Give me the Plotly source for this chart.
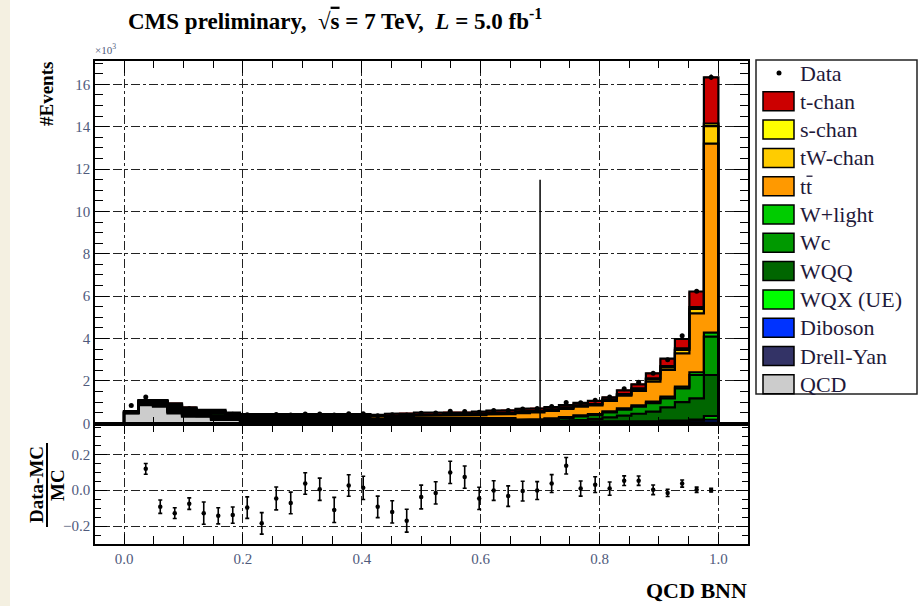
import numpy as np
import plotly.graph_objects as go

# ---------------- data (values in units of 10^3 events) ----------------
n_bins = 41
bin_edges = np.linspace(0.0, 1.0, n_bins + 1)
bin_centers = 0.5 * (bin_edges[:-1] + bin_edges[1:])

qcd = [0.47, 0.86, 0.79, 0.47, 0.31, 0.31, 0.16, 0.16, 0.08, 0.08, 0.08, 0.01, 0.01, 0.01,
       0.01, 0.01, 0.01, 0.01, 0.01, 0.01, 0.01, 0.01, 0.01, 0.01, 0.01, 0.01, 0.01, 0.01,
       0.01, 0.01, 0.0, 0.0, 0.0, 0.0, 0.0, 0.0, 0.0, 0.0, 0.0, 0.0, 0.0]
drell_yan = [0.01, 0.02, 0.03, 0.04, 0.04, 0.03, 0.04, 0.03, 0.03, 0.03, 0.03, 0.03, 0.03, 0.03,
             0.03, 0.03, 0.03, 0.03, 0.03, 0.03, 0.03, 0.03, 0.03, 0.03, 0.03, 0.03, 0.03, 0.03,
             0.03, 0.03, 0.03, 0.03, 0.03, 0.03, 0.03, 0.03, 0.03, 0.06, 0.04, 0.04, 0.05]
diboson = [0.01, 0.02, 0.02, 0.03, 0.03, 0.02, 0.03, 0.02, 0.02, 0.02, 0.02, 0.02, 0.02, 0.02,
           0.02, 0.02, 0.02, 0.02, 0.02, 0.02, 0.02, 0.02, 0.02, 0.02, 0.02, 0.02, 0.02, 0.02,
           0.02, 0.02, 0.02, 0.02, 0.02, 0.02, 0.03, 0.03, 0.04, 0.05, 0.06, 0.08, 0.12]
wqx_ue = [0.01, 0.02, 0.03, 0.04, 0.04, 0.03, 0.04, 0.03, 0.03, 0.03, 0.03, 0.03, 0.03, 0.03,
          0.03, 0.03, 0.03, 0.03, 0.03, 0.03, 0.03, 0.03, 0.03, 0.03, 0.03, 0.03, 0.03, 0.01,
          0.01, 0.01, 0.01, 0.01, 0.01, 0.01, 0.01, 0.02, 0.02, 0.02, 0.03, 0.05, 0.17]
wqq = [0.01, 0.02, 0.03, 0.05, 0.04, 0.03, 0.05, 0.03, 0.03, 0.03, 0.03, 0.04, 0.04, 0.03,
       0.04, 0.03, 0.04, 0.03, 0.04, 0.04, 0.03, 0.03, 0.03, 0.04, 0.03, 0.03, 0.03, 0.02,
       0.03, 0.04, 0.07, 0.10, 0.15, 0.22, 0.29, 0.37, 0.46, 0.62, 0.87, 1.01, 1.94]
wc = [0.01, 0.03, 0.04, 0.06, 0.06, 0.04, 0.06, 0.05, 0.05, 0.05, 0.05, 0.05, 0.05, 0.04,
      0.05, 0.04, 0.05, 0.04, 0.05, 0.05, 0.05, 0.05, 0.05, 0.05, 0.05, 0.05, 0.05, 0.04,
      0.06, 0.08, 0.12, 0.16, 0.18, 0.23, 0.28, 0.33, 0.40, 0.43, 0.65, 1.10, 1.81]
w_light = [0.01, 0.04, 0.05, 0.07, 0.07, 0.05, 0.07, 0.05, 0.06, 0.06, 0.05, 0.06, 0.06, 0.05,
           0.06, 0.05, 0.06, 0.04, 0.06, 0.06, 0.06, 0.06, 0.06, 0.07, 0.06, 0.07, 0.07, 0.05,
           0.04, 0.04, 0.04, 0.05, 0.05, 0.05, 0.06, 0.07, 0.07, 0.08, 0.08, 0.13, 0.19]
ttbar = [0.01, 0.03, 0.04, 0.06, 0.05, 0.04, 0.06, 0.05, 0.05, 0.05, 0.05, 0.07, 0.07, 0.11,
         0.08, 0.11, 0.08, 0.10, 0.08, 0.09, 0.13, 0.13, 0.14, 0.11, 0.16, 0.18, 0.19, 0.30,
         0.32, 0.36, 0.39, 0.42, 0.41, 0.50, 0.60, 0.68, 0.95, 1.26, 1.57, 2.78, 8.92]
tw_chan = [0.01, 0.02, 0.02, 0.04, 0.04, 0.03, 0.04, 0.03, 0.03, 0.03, 0.03, 0.04, 0.04, 0.04,
           0.04, 0.04, 0.04, 0.03, 0.04, 0.04, 0.04, 0.04, 0.04, 0.05, 0.05, 0.05, 0.05, 0.06,
           0.05, 0.05, 0.05, 0.04, 0.04, 0.05, 0.05, 0.08, 0.10, 0.12, 0.16, 0.21, 0.83]
s_chan = [0.01, 0.01, 0.01, 0.02, 0.02, 0.01, 0.02, 0.01, 0.02, 0.02, 0.02, 0.02, 0.02, 0.02,
          0.02, 0.02, 0.02, 0.02, 0.02, 0.02, 0.02, 0.02, 0.03, 0.03, 0.03, 0.03, 0.03, 0.03,
          0.02, 0.02, 0.02, 0.02, 0.02, 0.02, 0.03, 0.04, 0.05, 0.06, 0.08, 0.08, 0.12]
t_chan = [0.01, 0.03, 0.04, 0.06, 0.05, 0.04, 0.06, 0.04, 0.04, 0.04, 0.04, 0.05, 0.05, 0.06,
          0.06, 0.06, 0.06, 0.05, 0.07, 0.08, 0.08, 0.08, 0.08, 0.08, 0.08, 0.10, 0.11, 0.11,
          0.11, 0.10, 0.11, 0.11, 0.15, 0.10, 0.17, 0.19, 0.24, 0.35, 0.44, 0.74, 2.18]

data_counts = [0.84, 1.24, 1.00, 0.82, 0.69, 0.55, 0.54, 0.43, 0.40, 0.36, 0.41, 0.39, 0.44, 0.44,
               0.39, 0.45, 0.45, 0.36, 0.40, 0.39, 0.48, 0.49, 0.57, 0.56, 0.52, 0.60, 0.60, 0.68,
               0.70, 0.79, 0.98, 0.97, 1.09, 1.24, 1.63, 1.94, 2.36, 3.00, 4.13, 6.23, 16.33]
data_errors = [0.029, 0.035, 0.032, 0.029, 0.026, 0.023, 0.023, 0.021, 0.020, 0.019, 0.020,
               0.020, 0.021, 0.021, 0.020, 0.021, 0.021, 0.019, 0.020, 0.020, 0.022, 0.022,
               0.024, 0.024, 0.023, 0.024, 0.024, 0.026, 0.026, 0.028, 0.031, 0.031, 0.033,
               0.035, 0.040, 0.044, 0.049, 0.055, 0.064, 0.079, 0.128]

# (Data-MC)/MC for bins 1..40
ratio_values = [0.119, -0.092, -0.128, -0.075, -0.128, -0.143, -0.139, -0.097, -0.185, -0.046,
                -0.071, 0.037, 0.005, -0.110, 0.026, 0.013, -0.093, -0.121, -0.170, -0.038,
                -0.015, 0.099, 0.073, -0.046, -0.002, -0.033, -0.005, -0.002, 0.037, 0.136,
                0.009, 0.031, 0.009, 0.053, 0.053, 0.002, -0.015, 0.037, 0.002, 0.000]
ratio_errors = [0.030, 0.037, 0.030, 0.032, 0.062, 0.045, 0.045, 0.060, 0.060, 0.064,
                0.060, 0.060, 0.062, 0.070, 0.060, 0.065, 0.060, 0.062, 0.064, 0.066,
                0.062, 0.062, 0.062, 0.062, 0.055, 0.057, 0.055, 0.050, 0.050, 0.046,
                0.042, 0.044, 0.037, 0.027, 0.026, 0.027, 0.020, 0.020, 0.015, 0.010]
ratio_bin_index = list(range(1, 41))

cut_value = 0.70
cut_height = 11.5

# stack order bottom -> top
stack_names = ["QCD", "Drell-Yan", "Diboson", "WQX (UE)", "WQQ", "Wc", "W+light",
               "tt̄", "tW-chan", "s-chan", "t-chan"]
stack_values = [qcd, drell_yan, diboson, wqx_ue, wqq, wc, w_light, ttbar, tw_chan, s_chan, t_chan]
stack_colors = ["#cccccc", "#333366", "#0033ff", "#00ff00", "#006600", "#009900", "#00cc00",
                "#ff9900", "#ffcc00", "#ffff00", "#cc0000"]

# legend order (top -> bottom)
legend_labels = ["t-chan", "s-chan", "tW-chan", "tt",
                 "W+light", "Wc", "WQQ", "WQX (UE)", "Diboson", "Drell-Yan", "QCD"]
legend_colors = ["#cc0000", "#ffff00", "#ffcc00", "#ff9900", "#00cc00", "#009900", "#006600",
                 "#00ff00", "#0033ff", "#333366", "#cccccc"]

# ---------------- geometry helpers (layout only) ----------------
W, H = 918, 606
ML, MR, MT, MB = 95, 170, 61, 62
PW, PH = W - ML - MR, H - MT - MB
SPLIT_PX = 424


def pxx(px):
    return (px - ML) / PW


def pxy(py):
    return (H - MB - py) / PH


split = pxy(SPLIT_PX)
SERIF = "Liberation Serif"
TICKCOL = "#4f5a7c"

fig = go.Figure()

# stacked histogram fills
for name, vals, col in zip(stack_names, stack_values, stack_colors):
    fig.add_trace(go.Bar(x=bin_centers, y=vals, width=1.0 / n_bins, name=name,
                         marker=dict(color=col, line=dict(color=col, width=0.4)),
                         xaxis="x", yaxis="y", showlegend=False, hoverinfo="skip"))

# step outlines of each cumulative level
cum = np.cumsum(np.array(stack_values), axis=0)
for level in cum:
    xs = [bin_edges[0]]
    ys = [0.0]
    for i in range(n_bins):
        xs += [bin_edges[i], bin_edges[i + 1]]
        ys += [level[i], level[i]]
    xs.append(bin_edges[-1])
    ys.append(0.0)
    fig.add_trace(go.Scatter(x=xs, y=ys, mode="lines", line=dict(color="black", width=2.2),
                             xaxis="x", yaxis="y", showlegend=False, hoverinfo="skip"))

# cut line
fig.add_trace(go.Scatter(x=[cut_value, cut_value], y=[0, cut_height], mode="lines",
                         line=dict(color="black", width=1.5), xaxis="x", yaxis="y",
                         showlegend=False, hoverinfo="skip"))

# data points
fig.add_trace(go.Scatter(x=bin_centers, y=data_counts, mode="markers",
                         marker=dict(color="black", size=5),
                         error_y=dict(type="data", array=data_errors, color="black",
                                      thickness=1.5, width=0),
                         xaxis="x", yaxis="y", showlegend=False))

# ratio points
fig.add_trace(go.Scatter(x=bin_centers[ratio_bin_index], y=ratio_values, mode="markers",
                         marker=dict(color="black", size=4.5),
                         error_y=dict(type="data", array=ratio_errors, color="black",
                                      thickness=1.6, width=2),
                         xaxis="x2", yaxis="y2", showlegend=False))

axis_common = dict(showline=True, linecolor="black", linewidth=1.5, mirror="allticks",
                   ticks="inside", tickcolor="black", tickwidth=1, zeroline=False,
                   showgrid=True, gridcolor="#222222", gridwidth=1.2, griddash="dashdot",
                   tickfont=dict(family=SERIF, size=15, color=TICKCOL))

xr = [-0.0488, 1.0498]
fig.update_layout(
    width=W, height=H, margin=dict(l=ML, r=MR, t=MT, b=MB),
    paper_bgcolor="white", plot_bgcolor="white",
    barmode="stack", bargap=0,
    xaxis=dict(domain=[0, 1], range=xr, anchor="y", tick0=0, dtick=0.2, ticklen=12,
               showticklabels=False,
               minor=dict(ticks="inside", dtick=0.05, tick0=0, ticklen=7, tickcolor="black",
                          showgrid=False), **axis_common),
    yaxis=dict(domain=[split, 1], range=[-0.033, 17.1], anchor="x", tick0=0, dtick=2,
               ticklen=14, tickformat="d",
               minor=dict(ticks="inside", dtick=0.5, tick0=0, ticklen=8, tickcolor="black",
                          showgrid=False), **axis_common),
    xaxis2=dict(domain=[0, 1], range=xr, anchor="y2", tick0=0, dtick=0.2, ticklen=10,
                tickformat=".1f",
                minor=dict(ticks="inside", dtick=0.05, tick0=0, ticklen=8, tickcolor="black",
                           showgrid=False), **axis_common),
    yaxis2=dict(domain=[0, split], range=[-0.3, 0.369], anchor="x2", tick0=0, dtick=0.2,
                ticklen=12, tickformat=".1f",
                minor=dict(ticks="inside", dtick=0.05, tick0=0, ticklen=6, tickcolor="black",
                           showgrid=False), **axis_common),
)

shapes = []
annotations = []

# beige left strip
shapes.append(dict(type="rect", xref="paper", yref="paper", x0=pxx(0), x1=pxx(10),
                   y0=pxy(H), y1=pxy(0), fillcolor="#f4f0e1", line=dict(width=0),
                   layer="below"))

# title
annotations.append(dict(
    xref="paper", yref="paper", x=pxx(126), y=pxy(19), xanchor="left", yanchor="middle",
    showarrow=False,
    text="<b>CMS preliminary,\u00a0\u00a0√<span style='text-decoration:overline'>s</span> = 7 TeV,"
         "\u00a0\u00a0<i>L</i> = 5.0 fb<sup>-1</sup></b>",
    font=dict(family=SERIF, size=23, color="black")))

# x10^3
annotations.append(dict(xref="paper", yref="paper", x=pxx(93), y=pxy(49), xanchor="left",
                        yanchor="middle", showarrow=False, text="×10<sup>3</sup>",
                        font=dict(family=SERIF, size=11, color=TICKCOL)))

# y titles
annotations.append(dict(xref="paper", yref="paper", x=pxx(46), y=pxy(94), xanchor="center",
                        yanchor="middle", showarrow=False, textangle=-90, text="<b>#Events</b>",
                        font=dict(family=SERIF, size=19, color="black")))
annotations.append(dict(xref="paper", yref="paper", x=pxx(36), y=pxy(485), xanchor="center",
                        yanchor="middle", showarrow=False, textangle=-90, text="<b>Data-MC</b>",
                        font=dict(family=SERIF, size=19, color="black")))
annotations.append(dict(xref="paper", yref="paper", x=pxx(57), y=pxy(485), xanchor="center",
                        yanchor="middle", showarrow=False, textangle=-90, text="<b>MC</b>",
                        font=dict(family=SERIF, size=19, color="black")))
shapes.append(dict(type="line", xref="paper", yref="paper", x0=pxx(47), x1=pxx(47),
                   y0=pxy(443), y1=pxy(527), line=dict(color="black", width=2)))

# x title
annotations.append(dict(xref="paper", yref="paper", x=pxx(749), y=pxy(590), xanchor="right",
                        yanchor="middle", showarrow=False, text="<b>QCD BNN</b>",
                        font=dict(family=SERIF, size=22, color="black")))

# legend box
shapes.append(dict(type="rect", xref="paper", yref="paper", x0=pxx(756), x1=pxx(917),
                   y0=pxy(394), y1=pxy(60), fillcolor="white",
                   line=dict(color="#222222", width=1.5)))
row0 = 73
row_step = 28.3
shapes.append(dict(type="circle", xref="paper", yref="paper", x0=pxx(776.5), x1=pxx(781.5),
                   y0=pxy(75.5), y1=pxy(70.5), fillcolor="black", line=dict(width=0)))
annotations.append(dict(xref="paper", yref="paper", x=pxx(798), y=pxy(row0), xanchor="left",
                        yanchor="middle", showarrow=False, text="Data",
                        font=dict(family=SERIF, size=22, color="#1f1a3a")))
for k, (lab, col) in enumerate(zip(legend_labels, legend_colors)):
    yc = row0 + row_step * (k + 1)
    shapes.append(dict(type="rect", xref="paper", yref="paper", x0=pxx(763), x1=pxx(794),
                       y0=pxy(yc + 9.5), y1=pxy(yc - 9.5), fillcolor=col,
                       line=dict(color="black", width=1.5)))
    annotations.append(dict(xref="paper", yref="paper", x=pxx(798), y=pxy(yc), xanchor="left",
                            yanchor="middle", showarrow=False, text=lab,
                            font=dict(family=SERIF, size=22, color="#1f1a3a")))
    if lab == "tt":
        # overline on the second t (t-bar)
        shapes.append(dict(type="line", xref="paper", yref="paper", x0=pxx(806.5),
                           x1=pxx(812.5), y0=pxy(yc - 10), y1=pxy(yc - 10),
                           line=dict(color="#1f1a3a", width=1.3)))

fig.update_layout(shapes=shapes, annotations=annotations)
fig.write_html("out.html")
